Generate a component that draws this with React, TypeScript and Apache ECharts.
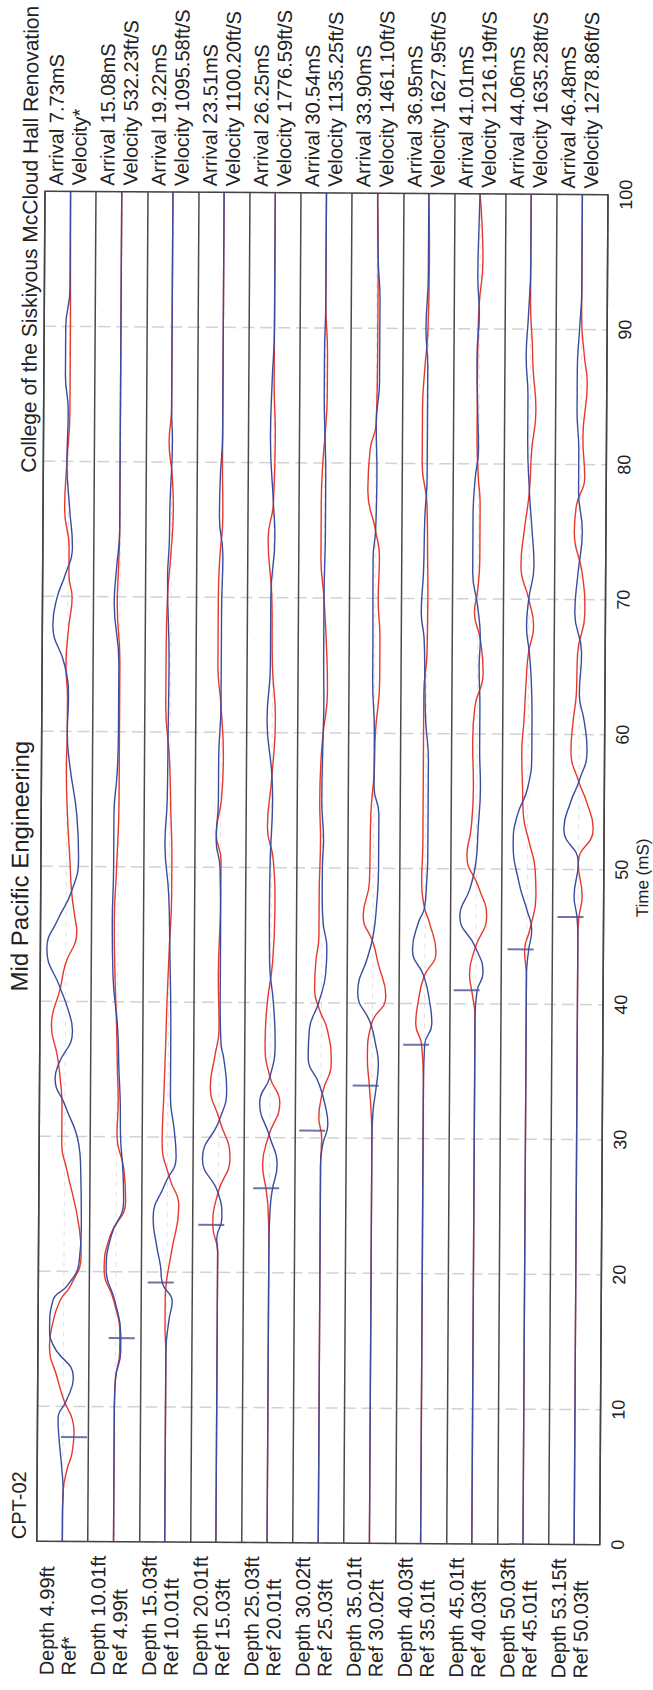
import React, { useEffect, useRef } from "react";
import * as echarts from "echarts";

// ---------- labels ----------
const depthLabels = ["Depth 4.99ft", "Depth 10.01ft", "Depth 15.03ft", "Depth 20.01ft", "Depth 25.03ft", "Depth 30.02ft", "Depth 35.01ft", "Depth 40.03ft", "Depth 45.01ft", "Depth 50.03ft", "Depth 53.15ft"];
const refLabels = ["Ref*", "Ref 4.99ft", "Ref 10.01ft", "Ref 15.03ft", "Ref 20.01ft", "Ref 25.03ft", "Ref 30.02ft", "Ref 35.01ft", "Ref 40.03ft", "Ref 45.01ft", "Ref 50.03ft"];
const arrivalLabels = ["Arrival 7.73mS", "Arrival 15.08mS", "Arrival 19.22mS", "Arrival 23.51mS", "Arrival 26.25mS", "Arrival 30.54mS", "Arrival 33.90mS", "Arrival 36.95mS", "Arrival 41.01mS", "Arrival 44.06mS", "Arrival 46.48mS"];
const velocityLabels = ["Velocity*", "Velocity 532.23ft/S", "Velocity 1095.58ft/S", "Velocity 1100.20ft/S", "Velocity 1776.59ft/S", "Velocity 1135.25ft/S", "Velocity 1461.10ft/S", "Velocity 1627.95ft/S", "Velocity 1216.19ft/S", "Velocity 1635.28ft/S", "Velocity 1278.86ft/S"];

// arrival picks (time mS) and the trace amplitude where each pick mark sits
const arrivalTimes = [7.73, 15.08, 19.22, 23.51, 26.25, 30.54, 33.9, 36.95, 41.01, 44.06, 46.48];
const arrivalPickAmp = [11, 7, -5.5, -6.5, -3, -8.5, -6.5, -7.5, -8.5, -6, -7.5];

// ---------- traces: [time mS, amplitude] ----------
const blue1 = [[0,0],[2.2,0],[3.7,0.5],[5.4,-1],[7.7,-4],[9.1,-5],[10.4,3],[12.1,10],[14.5,-10],[15.8,-14],[17.8,-11],[19,4],[20.7,15],[23.2,17],[27.6,16],[29.4,14],[32.3,0],[34.3,-10],[35.3,-7],[37.8,7],[39.5,2],[41,-5.5],[43.9,-19],[46.1,-8],[48.1,5],[50.6,12],[53.8,10],[57.5,2.7],[60,0],[62.4,1],[64.9,-3],[67.9,-15],[69.9,-11],[71.6,-3],[73.6,4],[76.5,1],[80,-2],[83.7,-1],[86.4,-4],[89.9,-4],[92.8,0],[100,0]];
const red1 = [[0,0],[2.2,0],[3.7,0.5],[5.4,4.5],[6.5,9],[8.1,11],[9.1,9],[10.4,1],[12.1,-6],[14.5,-14],[15.8,-12],[17.8,-4],[19,7],[21.2,17],[23.2,15],[27.6,2],[29.4,-3],[32.3,-3],[34.3,-5],[36,-8],[38.2,-14],[41,-5.3],[42.7,-0.7],[45.2,10.7],[46.1,9],[48.1,5.3],[50.6,3.3],[53.8,0.7],[57.5,-0.7],[60,0],[62.4,0],[64.9,-1.7],[67.9,1],[69.9,4],[71.6,0.7],[73.6,0.7],[76.5,-4],[80,-2],[83.7,0.7],[86.4,0.7],[89.9,0.7],[92.8,0.5],[100,0]];

const blue2 = [[0,0],[10,0],[12.1,1],[14.1,6],[15.3,6],[17.8,0],[20.2,-9],[22.7,-4],[25.2,8],[27.6,7],[30.1,4.5],[32.6,4],[35,2.5],[38,1],[42,-4],[46,-5],[50,-4],[53.8,-4],[57,-1],[60,0],[65,0],[69.6,-5],[72,-3],[75,0],[100,0]];
const red2 = [[0,0],[10,0],[12.1,1],[14.1,5],[15.3,5],[17.8,-1],[20.2,-11],[22.7,-5],[25.2,10],[27.6,8],[30.1,1],[32.6,2],[35,1],[38,0],[42,-2],[46,-3],[50,-1],[55,1],[60,1],[65,1],[69.6,-2],[72,-1],[75,0],[100,0]];

const blue3 = [[0,0],[14,0],[16.5,3],[17.8,6],[19.2,-4],[20.5,-6],[22,-10],[24,-13.5],[26.5,-2],[28.5,9],[30.5,7],[33,3],[37,3],[44,1.5],[48,0],[51.8,-4],[55,-2],[60,-1.5],[65,-1],[71.5,-3],[74,-1.5],[77,-1],[81.5,1],[84,0],[100,0]];
const red3 = [[0,0],[14,0],[16,-1],[18,-1],[19.2,0],[21.5,5],[24.9,12],[26.9,3],[29.6,-5],[33.3,-3.5],[37,-2],[40,-1],[44,1],[48,3],[50.6,3],[54,1.7],[58,0],[62,-4],[66,-4],[70,-3],[73,0],[76.5,2.3],[79,1],[81.5,-2.3],[84,0],[100,0]];

const blue4 = [[0,0],[20,0],[21.5,0],[22.5,-1],[24,4],[25.9,0],[28.4,-15.7],[31.3,1],[33.5,8],[35.8,5],[37,2],[40,1],[45,1],[50,0],[52,-4],[55,-2],[58,-2],[62,0],[69,0],[73,1],[76,-2.7],[79,-2],[82,0],[100,0]];
const red4 = [[0,0],[20,0],[21.5,0],[23.5,-5],[25.9,0],[28.5,11.7],[31.3,1],[33.8,-8.3],[36,-4],[38,0],[42,-1],[48,1],[50.5,1],[52.5,-4],[55,1],[58,2.7],[62,0],[65,-3.3],[70,-3.3],[73,-2],[76,0.7],[80,0],[100,0]];

const blue5 = [[0,0],[22,0],[24.7,1],[26.1,3],[28,7.7],[30.1,0],[32.6,-10],[34.5,0],[37,5],[40,3],[43,-1],[47,-1.5],[50.6,-1],[55,1],[57,0],[61,-5],[65,-2],[70,-2],[74.5,1.7],[77,0],[82,-3.3],[86,-2],[90,0],[100,0]];
const red5 = [[0,0],[22,0],[24.7,-1],[26.1,-3],[28,-6.7],[30.1,-1],[32.6,10],[34.5,0],[37,-5],[40,-3],[43,2],[47,4],[50.6,2],[53,-4],[56.6,0],[61,3.3],[65,0],[70,-1],[74.4,-5],[77,0],[82,1.5],[86,0],[100,0]];

const blue6 = [[0,0],[28,0],[29.5,2],[31,7],[32.5,4],[34,-2],[36,-13],[38,-12],[40,-3],[42.2,4],[44,5],[46,1],[48,0],[50,0],[52,1],[55,-1],[60,0],[62,0.5],[66,0],[70,0],[75,1],[79,1],[82,0],[85,-1],[88,-1],[92,0],[100,0]];
const red6 = [[0,0],[28,0],[30,1],[31.5,-2],[33.5,2],[35.5,10],[38,6],[39.5,-2],[41,-7],[43,-6],[45,-3],[48,-3],[52,-2],[55,-3],[58,-2],[60,0],[63,4],[66,3],[70,0],[73,-3.3],[77,-3.3],[80,-2],[82,0],[85,2],[88,2],[92,0],[100,0]];

const blue7 = [[0,0],[30,0],[32,1],[33.8,4],[35.5,6],[37,3],[38.5,-2],[40.8,-15],[43.5,-5],[45,0],[47,3],[50,5],[54,5],[56,0],[60,0],[64,-2],[67,-2],[71,-2.3],[73,-2.3],[75,0],[79,1],[83,0],[86,3],[92,3],[95,1],[100,0]];
const red7 = [[0,0],[30,0],[32,-1],[34,-3],[36,-5],[38.5,-1],[40.5,13],[43,5],[44.5,0],[46.5,-10],[49,-4],[54,-3],[57,0],[60,1],[64,5],[67,5],[70,3],[73,4],[75,0],[78,-8],[81,-6],[83,0],[88,1],[93,1],[100,0]];

const blue8 = [[0,0],[34,0],[36.95,1],[38.5,8],[40,6],[42,0],[44,-11.7],[46,-6],[47.1,0],[49,2],[51,3],[55,3],[58,3],[61,0],[64,-1],[67,-2],[69,-5],[72,-3],[76,-2],[79,0],[83,0],[87,0],[90,-2],[94,0],[100,0]];
const red8 = [[0,0],[34,0],[36.95,-2],[38.5,-8],[40,-6],[42,0],[43.8,11.7],[46,5],[47.1,0],[49,-3],[52,-2],[56,-2],[60,-2],[63,-2],[66,1],[70,1.5],[73,1],[77,0],[80,-5],[84,-5],[87,-3],[90,0],[95,1],[100,0]];

const blue9 = [[0,0],[39,0],[41,2],[42.3,7.7],[44.2,0],[46.5,-15.7],[48.5,-6],[50.5,0],[53,2],[56,4],[59,3],[62,3],[65,2],[67,3],[69.5,0],[72,-5],[76,-5],[79,-3],[81,0],[84,-1],[88,-2],[91,0],[94,-1.7],[97,-1],[100,0]];
const red9 = [[0,0],[39,0],[40.8,-3],[42.2,-5.7],[44.2,0],[46.5,11],[48.6,3],[51,-9],[53,-5],[56,-3],[59.5,-4],[62,-2],[64.5,6],[67,3],[69,-3],[70.6,0],[73,2],[77,2],[79,0],[82,-1.5],[86,-1.5],[90,-1],[92,0],[95,3.3],[98,2],[100,0]];

const blue10 = [[0,0],[42,0],[44,2],[45.5,5],[47,0],[49,-8],[52,-14],[54,-10],[56,0],[58.7,4],[61,4],[64,3],[66,1],[68,-2],[70,0],[72.5,5],[75,3],[78,0],[82,-2],[85,-2],[88,-4],[91,-2],[95,0],[100,0]];
const red10 = [[0,0],[42,0],[44,-2],[45.5,3],[48,9],[50,8],[52,2],[54,-4],[56,-5],[58.7,-6],[61,-4],[64,-2],[66,0],[68,5],[70,0],[72.5,-8],[75,-5],[78,0],[81,2],[84,6],[87,3],[89,2],[92,0],[100,0]];

const blue11 = [[0,0],[45,0],[46.5,-1],[48,-4],[50.5,0],[53,-14.6],[55,-8],[56.5,0],[58.8,8],[61,5],[63,0],[66,2],[69,-5],[72,-2],[75,2],[78,-2],[81,-2],[84,-4],[87,-4],[90,-2],[93,0],[100,0]];
const red11 = [[0,0],[45,0],[46.5,1],[48,4],[50.5,0],[53,14.6],[55,8],[56.5,0],[58.8,-8],[61,-6],[63,-3],[66,-2],[69,5],[72,2],[75,-6],[77,-4],[79,4],[82,2],[86,6],[88,3],[91,0],[100,0]];

const blueTraces = [blue1, blue2, blue3, blue4, blue5, blue6, blue7, blue8, blue9, blue10, blue11];
const redTraces = [red1, red2, red3, red4, red5, red6, red7, red8, red9, red10, red11];

// amplitude units that span one track width
const AMP_PER_TRACK = 51;

const W = 653;
const H = 1690;
const GRID = { left: 41, right: 49, top: 193, bottom: 147 };
const FONT = "'Liberation Sans', Arial, Helvetica, sans-serif";
const RED = "#e6392e";
const BLUE = "#3b4c9f";
const TEXT = "#222";

function toData(points: number[][], row: number) {
  return points.map(([t, a]) => [row + 0.5 + a / AMP_PER_TRACK, t]);
}

export default function App() {
  const ref = useRef<HTMLDivElement>(null);

  useEffect(() => {
    if (!ref.current) return;
    const chart = echarts.init(ref.current, null, { renderer: "svg" });
    const rows = depthLabels.length;
    const trackW = (W - GRID.left - GRID.right) / rows;
    const colX = (i: number) => GRID.left + (i + 0.5) * trackW;
    const plotMidY = GRID.top + (H - GRID.top - GRID.bottom) / 2;

    const series: any[] = [];
    for (let i = 0; i < rows; i++) {
      series.push({
        type: "line", data: toData(redTraces[i], i), smooth: 0.5, symbol: "none", silent: true, z: 2,
        lineStyle: { color: RED, width: 1.4 },
      });
    }
    for (let i = 0; i < rows; i++) {
      series.push({
        type: "line", data: toData(blueTraces[i], i), smooth: 0.5, symbol: "none", silent: true, z: 3,
        lineStyle: { color: BLUE, width: 1.4 },
      });
    }
    series.push({
      type: "scatter", z: 4, silent: true, symbol: "rect", symbolSize: [26, 2],
      itemStyle: { color: "#4a5290" },
      data: arrivalTimes.map((t, i) => [i + 0.5 + arrivalPickAmp[i] / AMP_PER_TRACK, t]),
    });

    const rotText = (x: number, y: number, text: string, size: number, align: string, lineHeight?: number) => ({
      type: "text", x, y, rotation: Math.PI / 2, silent: true,
      style: {
        text, fontSize: size, fontFamily: FONT, fill: TEXT,
        align, verticalAlign: "middle", textAlign: align, textVerticalAlign: "middle",
        lineHeight: lineHeight || size * 1.15,
      },
    });

    const graphics: any[] = [];
    graphics.push(rotText(20, plotMidY, "Mid Pacific Engineering", 24, "center"));
    graphics.push(rotText(26, 241, "College of the Siskiyous McCloud Hall Renovation", 21, "center"));
    graphics.push(rotText(23, H - GRID.bottom - 2, "CPT-02", 20, "left"));
    graphics.push(rotText(643, plotMidY + 8, "Time (mS)", 17, "center"));
    for (let i = 0; i < rows; i++) {
      graphics.push(rotText(colX(i) - 3, GRID.top - 6, arrivalLabels[i] + "\n" + velocityLabels[i], 20, "left", 23));
      graphics.push(rotText(colX(i) - 4, H - 13, depthLabels[i] + "\n" + refLabels[i], 20, "left", 22));
    }

    chart.setOption({
      animation: false,
      backgroundColor: "#ffffff",
      grid: { ...GRID, show: true, z: 5, borderColor: "#444", borderWidth: 1.5, backgroundColor: "transparent" },
      xAxis: {
        type: "value", min: 0, max: rows, interval: 1, z: 1,
        axisLine: { show: false }, axisTick: { show: false }, axisLabel: { show: false },
        splitLine: { show: true, lineStyle: { color: "#4a4a4a", width: 1.5 } },
        minorTick: { show: false, splitNumber: 2 },
        minorSplitLine: { show: true, lineStyle: { color: "#e2e2e2", width: 1, type: [5, 5] } },
      },
      yAxis: {
        type: "value", min: 0, max: 100, interval: 10, position: "right", z: 0,
        axisLine: { show: false }, axisTick: { show: false },
        axisLabel: { rotate: 90, fontSize: 18, color: TEXT, fontFamily: FONT, margin: 9 },
        splitLine: { show: true, lineStyle: { color: "#d2d2d2", width: 1.5, type: [12, 6] } },
      },
      series,
      graphic: graphics,
    });

    return () => chart.dispose();
  }, []);

  return (
    <div
      ref={ref}
      style={{
        position: "absolute", left: 0, top: 0, width: W, height: H, background: "#fff",
        transform: "rotate(0.35deg)", transformOrigin: "50% 50%",
      }}
    />
  );
}
